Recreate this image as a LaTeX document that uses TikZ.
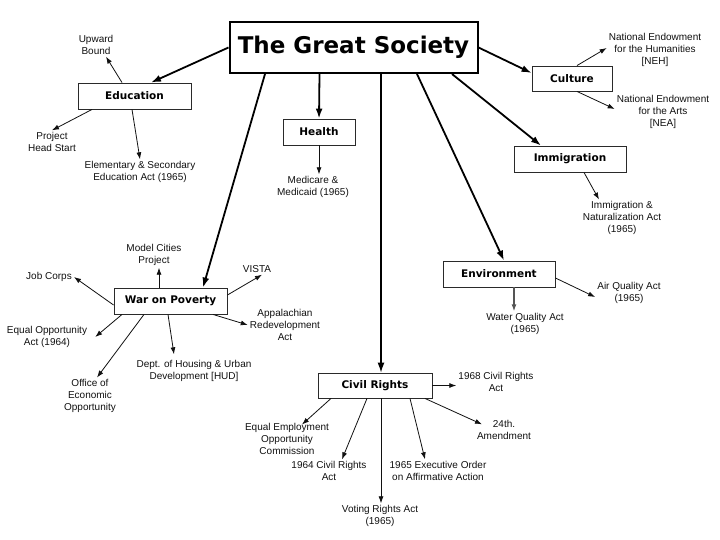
\documentclass[tikz,border=0pt]{standalone}
\usepackage{fontspec}
\setmainfont{Liberation Sans}
\newfontfamily\heavyfont{DejaVu Sans}
\usetikzlibrary{arrows.meta,positioning,calc}
\definecolor{ink}{HTML}{111111}
\definecolor{boxedge}{HTML}{2A2A2A}
\definecolor{bk50}{HTML}{555555}
\tikzset{
  titlebox/.style={
    rectangle, draw=black, line width=2pt, fill=white,
    minimum width=248pt, minimum height=51pt,
    font=\heavyfont\bfseries\fontsize{23}{27}\selectfont
  },
  topicbox/.style={
    rectangle, draw=boxedge, line width=0.9pt, fill=white,
    minimum width=#1, minimum height=26pt,
    font=\heavyfont\bfseries\fontsize{10.5}{12}\selectfont,
    inner sep=2pt
  },
  topicbox/.default=112pt,
  leaf/.style={
    font=\fontsize{10}{11.6}\selectfont, align=center,
    inner sep=2pt, text=ink
  },
  mainarrow/.style={
    -{Latex[length=10pt,width=7pt]}, line width=#1, color=black
  },
  mainarrow/.default=1.8pt,
  subarrow/.style={
    -{Latex[length=7pt,width=5pt]}, line width=0.8pt, color=#1
  },
  subarrow/.default=ink,
}
\begin{document}
\begin{tikzpicture}[x=1pt,y=-1pt]
  \useasboundingbox[fill=white] (0,0) rectangle (720,540);

  % main topics
  \node[titlebox] (gs) at (353.5,47.5) {The Great Society};
  \node[topicbox=113pt] (edu) at (134.5,96) {Education};
  \node[topicbox=72pt] (health) at (319,132) {Health};
  \node[topicbox=80pt, minimum height=25pt] (culture) at (572,78.5) {Culture};
  \node[topicbox] (immig) at (570,159) {Immigration};
  \node[topicbox=113pt] (wop) at (170.5,301) {War on Poverty};
  \node[topicbox] (env) at (499,274) {Environment};
  \node[topicbox=114pt, minimum height=25pt] (civil) at (375,385.5) {Civil Rights};

  % programs and acts
  \node[leaf] (upward) at (96,45) {Upward\\Bound};
  \node[leaf] (headstart) at (52,142) {Project\\Head Start};
  \node[leaf] (esea) at (140,172) {Elementary \& Secondary\\Education Act (1965)};
  \node[leaf] (medicare) at (313,187) {Medicare \&\\Medicaid (1965)};
  \node[leaf] (neh) at (655,50) {National Endowment\\for the Humanities\\{[NEH]}};
  \node[leaf] (nea) at (663,112) {National Endowment\\for the Arts\\{[NEA]}};
  \node[leaf] (ina) at (622,218) {Immigration \&\\Naturalization Act\\(1965)};
  \node[leaf] (model) at (154,255) {Model Cities\\Project};
  \node[leaf] (jobcorps) at (49,277) {Job Corps};
  \node[leaf] (vista) at (257,269) {VISTA};
  \node[leaf] (appal) at (285,325) {Appalachian\\Redevelopment\\Act};
  \node[leaf] (eoa) at (47,337) {Equal Opportunity\\Act (1964)};
  \node[leaf] (oeo) at (90,396) {Office of\\Economic\\Opportunity};
  \node[leaf] (hud) at (194,371) {Dept. of Housing \& Urban\\Development [HUD]};
  \node[leaf] (water) at (525,324) {Water Quality Act\\(1965)};
  \node[leaf] (air) at (629,293) {Air Quality Act\\(1965)};
  \node[leaf] (cra68) at (496,382) {1968 Civil Rights\\Act};
  \node[leaf] (amend) at (504,430) {24th.\\Amendment};
  \node[leaf] (eeoc) at (287,439) {Equal Employment\\Opportunity\\Commission};
  \node[leaf] (cra64) at (329,471) {1964 Civil Rights\\Act};
  \node[leaf] (eo) at (438,471) {1965 Executive Order\\on Affirmative Action};
  \node[leaf] (voting) at (380,516) {Voting Rights Act\\(1965)};

  % from the title
  \draw[mainarrow] (gs.west) -- ([xshift=16.5pt]edu.north);
  \draw[mainarrow] ([xshift=-34pt]gs.south) -- (health.north);
  \draw[mainarrow] ([xshift=-88.5pt]gs.south) -- ([xshift=32.5pt]wop.north);
  \draw[mainarrow=1.2pt] ([xshift=27.5pt]gs.south) -- ([xshift=6pt]civil.north);
  \draw[mainarrow] ([xshift=63.5pt]gs.south) -- ([xshift=5pt]env.north);
  \draw[mainarrow] ([xshift=98.5pt]gs.south) -- ([xshift=-29pt]immig.north);
  \draw[mainarrow] (gs.east) -- ([yshift=5.5pt]culture.west);

  % Education
  \draw[subarrow] ([xshift=-12.5pt]edu.north) -- ([xshift=10pt]upward.south);
  \draw[subarrow] ([xshift=-42.5pt]edu.south) -- (headstart.north);
  \draw[subarrow] ([xshift=-2.5pt]edu.south) -- (esea.north);

  % Health
  \draw[subarrow] (health.south) -- (health.south |- medicare.north);

  % Culture and Immigration
  \draw[subarrow] ([xshift=5pt]culture.north) -- ([yshift=2pt]neh.west);
  \draw[subarrow] ([xshift=5pt]culture.south) -- ([yshift=3pt]nea.west);
  \draw[subarrow] ([xshift=14pt]immig.south) -- ([xshift=-23pt]ina.north);

  % War on Poverty
  \draw[subarrow] ([xshift=-11.5pt]wop.north) -- ([xshift=-11.5pt]wop.north |- model.south);
  \draw[subarrow] ([yshift=-4pt]wop.west) -- (jobcorps.east);
  \draw[subarrow] ([yshift=6pt]wop.east) -- ([xshift=5pt]vista.south);
  \draw[subarrow] ([xshift=42.5pt]wop.south) -- (appal.west);
  \draw[subarrow] ([xshift=-48.5pt]wop.south) -- ([xshift=6pt]eoa.east);
  \draw[subarrow] ([xshift=-26.5pt]wop.south) -- ([xshift=7pt]oeo.north);
  \draw[subarrow] ([xshift=-2.5pt]wop.south) -- ([xshift=-20pt,yshift=4pt]hud.north);

  % Environment
  \draw[subarrow=bk50, line width=1.4pt] ([xshift=15pt]env.south) -- ([xshift=15pt]env.south |- water.north);
  \draw[subarrow] ([yshift=-4pt]env.east) -- ([yshift=-4pt]air.west);

  % Civil Rights
  \draw[subarrow] (civil.east) -- (civil.east -| cra68.west);
  \draw[subarrow] ([xshift=50pt]civil.south) -- ([xshift=-22pt,yshift=-6pt]amend.north);
  \draw[subarrow] ([xshift=-44pt]civil.south) -- ([xshift=15pt,yshift=-3pt]eeoc.north);
  \draw[subarrow] ([xshift=-8pt]civil.south) -- ([xshift=13pt]cra64.north);
  \draw[subarrow] ([xshift=35pt]civil.south) -- ([xshift=-13pt]eo.north);
  \draw[subarrow] ([xshift=6pt]civil.south) -- ([xshift=6pt]civil.south |- voting.north);
\end{tikzpicture}
\end{document}
